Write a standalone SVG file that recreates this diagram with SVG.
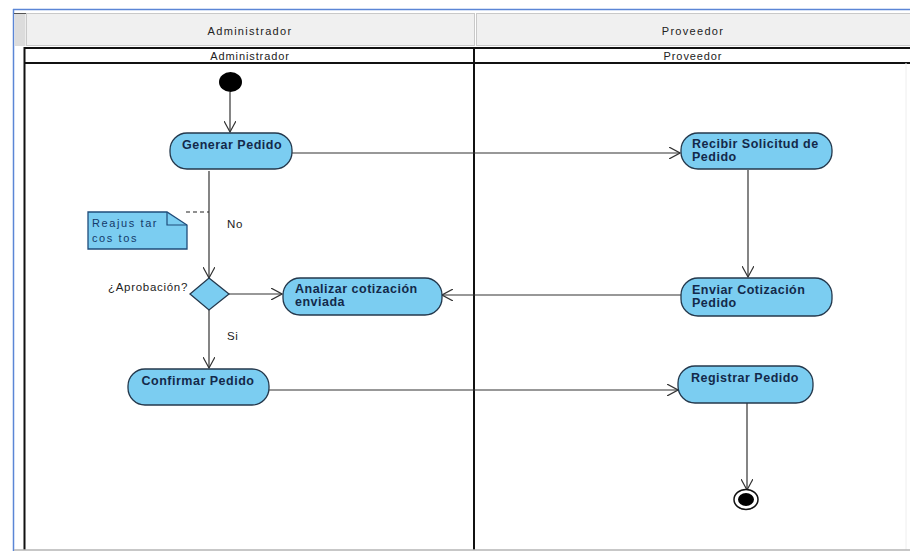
<svg xmlns="http://www.w3.org/2000/svg" width="910" height="551" viewBox="0 0 910 551">
  <style>
    .hdr { font-family: "Liberation Sans", Arial, sans-serif; font-size: 11px; fill: #222; text-anchor: middle; letter-spacing: 1.3px; }
    .act { fill: #7bcdf1; stroke: #24384c; stroke-width: 1.3; }
    .albl { font-family: "Liberation Sans", Arial, sans-serif; font-size: 12.5px; font-weight: bold; fill: #13294a; letter-spacing: 0.5px; }
    .lbl { font-family: "Liberation Sans", Arial, sans-serif; font-size: 11.5px; fill: #222; letter-spacing: 0.7px; }
    .note { font-family: "Liberation Sans", Arial, sans-serif; font-size: 11px; fill: #143a6a; letter-spacing: 1.6px; }
    .flow { fill: none; stroke: #333; stroke-width: 1.2; }
    .lane { stroke: #111; stroke-width: 2; fill: none; }
  </style>
  <defs>
    <marker id="open" viewBox="0 0 12 12" refX="11" refY="6" markerWidth="12" markerHeight="12" markerUnits="userSpaceOnUse" orient="auto">
      <path d="M0,0 L11,6 L0,12" fill="none" stroke="#333" stroke-width="1.2"/>
    </marker>
  </defs>

  <rect x="0" y="0" width="910" height="551" fill="#ffffff"/>

  <!-- frame -->
  <g id="frame">
    <line x1="13" y1="9.5" x2="910" y2="9.5" stroke="#5b86d6" stroke-width="1.5"/>
    <line x1="13.5" y1="9" x2="13.5" y2="551" stroke="#5b86d6" stroke-width="1.5"/>
    <rect x="14.5" y="13" width="11" height="33" fill="#dcdcdc"/>
    <line x1="14" y1="13.5" x2="26" y2="13.5" stroke="#555" stroke-width="1"/>
    <rect x="26.5" y="13.5" width="448" height="32" fill="#f0f0f0" stroke="#c9c9c9"/>
    <rect x="476.5" y="13.5" width="440" height="32" fill="#f0f0f0" stroke="#c9c9c9"/>
    <text class="hdr" x="250" y="35">Administrador</text>
    <text class="hdr" x="693" y="35">Proveedor</text>
  </g>

  <!-- swimlanes -->
  <g id="lanes">
    <line class="lane" x1="24" y1="48" x2="910" y2="48"/>
    <line class="lane" x1="24" y1="63" x2="910" y2="63"/>
    <line class="lane" x1="24.5" y1="47" x2="24.5" y2="550"/>
    <line class="lane" x1="474" y1="47" x2="474" y2="550"/>
    <line x1="906" y1="63" x2="906" y2="550" stroke="#eeeeee" stroke-width="1"/>
    <line x1="14" y1="550" x2="910" y2="550" stroke="#b5b5b5" stroke-width="1.5"/>
    <text class="hdr" x="250" y="60" style="letter-spacing:0.9px">Administrador</text>
    <text class="hdr" x="693" y="60" style="letter-spacing:0.9px">Proveedor</text>
  </g>

  <!-- connectors -->
  <g id="connectors">
    <line class="flow" x1="230" y1="92" x2="230" y2="132" marker-end="url(#open)"/>
    <line class="flow" x1="292" y1="153" x2="680" y2="153" marker-end="url(#open)"/>
    <line class="flow" x1="748" y1="170" x2="748" y2="277" marker-end="url(#open)"/>
    <line class="flow" x1="681" y1="295" x2="442" y2="295" marker-end="url(#open)"/>
    <line class="flow" x1="209" y1="171" x2="209" y2="278" marker-end="url(#open)"/>
    <line class="flow" x1="229" y1="294" x2="282" y2="294" marker-end="url(#open)"/>
    <line class="flow" x1="209" y1="310" x2="209" y2="368" marker-end="url(#open)"/>
    <line class="flow" x1="269" y1="390" x2="678" y2="390" marker-end="url(#open)"/>
    <line class="flow" x1="747" y1="403" x2="747" y2="490" marker-end="url(#open)"/>
    <line x1="186" y1="212" x2="209" y2="212" stroke="#222" stroke-width="1.2" stroke-dasharray="4,3"/>
    <text class="lbl" x="227" y="228">No</text>
    <text class="lbl" x="227" y="340">Si</text>
  </g>

  <g id="start">
    <ellipse cx="230.5" cy="82" rx="11.5" ry="10" fill="#000"/>
  </g>

  <g id="generar-pedido">
    <rect class="act" x="170" y="133" width="122" height="36" rx="17" ry="17"/>
    <text class="albl" x="232" y="149" text-anchor="middle">Generar Pedido</text>
  </g>

  <g id="recibir-solicitud">
    <rect class="act" x="681" y="133" width="151" height="36" rx="17" ry="17"/>
    <text class="albl" x="692" y="148">Recibir Solicitud de</text>
    <text class="albl" x="692" y="161">Pedido</text>
  </g>

  <g id="enviar-cotizacion">
    <rect class="act" x="681" y="278" width="151" height="38" rx="17" ry="17"/>
    <text class="albl" x="692" y="294">Enviar Cotización</text>
    <text class="albl" x="692" y="307">Pedido</text>
  </g>

  <g id="analizar-cotizacion">
    <rect class="act" x="283" y="278" width="159" height="37" rx="17" ry="17"/>
    <text class="albl" x="295" y="293">Analizar cotización</text>
    <text class="albl" x="295" y="306">enviada</text>
  </g>

  <g id="aprobacion">
    <polygon class="act" points="209,278 229,294 209,310 190,294"/>
    <text class="lbl" x="188" y="291" text-anchor="end">¿Aprobación?</text>
  </g>

  <g id="nota-reajustar">
    <path d="M88,212 L167,212 L187,225 L187,249 L88,249 Z" fill="#7bcdf1" stroke="#1f4c7a" stroke-width="1.3"/>
    <path d="M167,212 L167,225 L187,225" fill="none" stroke="#1f4c7a" stroke-width="1.2"/>
    <text class="note" x="92" y="227">Reajus tar</text>
    <text class="note" x="92" y="242">cos tos</text>
  </g>

  <g id="confirmar-pedido">
    <rect class="act" x="128" y="369" width="141" height="36" rx="17" ry="17"/>
    <text class="albl" x="198" y="385" text-anchor="middle">Confirmar Pedido</text>
  </g>

  <g id="registrar-pedido">
    <rect class="act" x="678" y="366" width="135" height="37" rx="17" ry="17"/>
    <text class="albl" x="745" y="382" text-anchor="middle">Registrar Pedido</text>
  </g>

  <g id="end">
    <ellipse cx="746" cy="499.5" rx="12" ry="10" fill="#fff" stroke="#111" stroke-width="1.5"/>
    <ellipse cx="746" cy="499.5" rx="8" ry="6.5" fill="#000"/>
  </g>
</svg>
